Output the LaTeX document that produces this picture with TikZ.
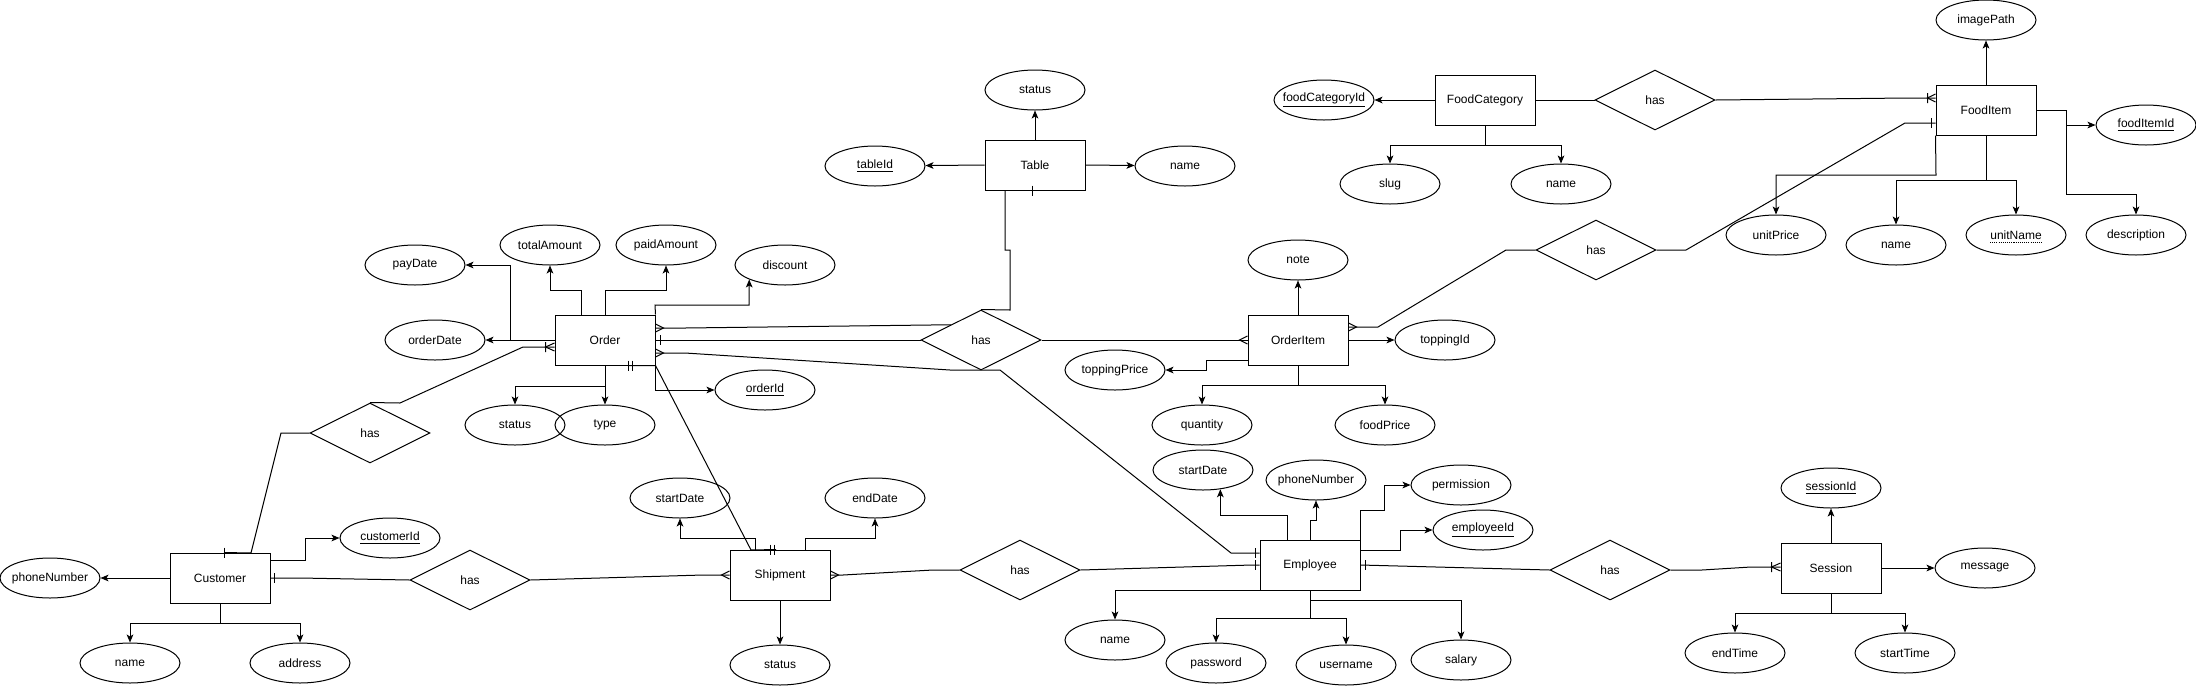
\documentclass[tikz,border=0pt]{standalone}
\usepackage{fontspec}
\setmainfont{Liberation Sans}
\usetikzlibrary{shapes.geometric,arrows.meta}
\tikzset{
  ent/.style={draw, rectangle, minimum width=75pt, minimum height=37.5pt},
  attr/.style={draw, ellipse, minimum width=75pt, minimum height=30pt, inner sep=0pt,
    execute at begin node={\hbox to 0pt\bgroup\hss}, execute at end node={\hss\egroup}},
  rel/.style={draw, diamond, minimum width=90pt, minimum height=45pt, inner sep=0pt}
}
\begin{document}
\begin{tikzpicture}[x=0.75pt, y=-0.75pt, line width=0.75pt, font=\fontsize{9}{11}\selectfont,
  >={Stealth[length=6pt,width=5pt,inset=1.5pt]}]
\useasboundingbox (0,0) rectangle (2196,687);
% entities
\node[ent] (cust) at (220,578) {Customer};
\node[ent] (ord) at (605,340) {Order};
\node[ent] (ship) at (780,575) {Shipment};
\node[ent] (tbl) at (1035,165) {Table};
\node[ent] (oitem) at (1298,340) {OrderItem};
\node[ent] (emp) at (1310,565) {Employee};
\node[ent] (sess) at (1831,568) {Session};
\node[ent] (fcat) at (1485,100) {FoodCategory};
\node[ent] (fitem) at (1986,110) {FoodItem};
% relations
\node[rel] (has1) at (370,433) {has};
\node[rel] (has2) at (470,580) {has};
\node[rel] (has3) at (1020,570) {has};
\node[rel] (has4) at (1610,570) {has};
\node[rel] (has5) at (1596,250) {has};
\node[rel] (has6) at (1655,100) {has};
\node[rel] (hasoi) at (981,340) {has};
% attributes
\node[attr] (cphone) at (50,578) {phoneNumber};
\node[attr] (cname) at (130,663) {name};
\node[attr] (caddr) at (300,663) {address};
\node[attr] (cid) at (390,538) {\underline{customerId}};
\node[attr] (paydate) at (415,265) {payDate};
\node[attr] (odate) at (435,340) {orderDate};
\node[attr] (total) at (550,245) {totalAmount};
\node[attr] (paid) at (666,245) {paidAmount};
\node[attr] (disc) at (785,265) {discount};
\node[attr] (oid) at (765,390) {\underline{orderId}};
\node[attr] (ostatus) at (515,425) {status};
\node[attr] (otype) at (605,425) {type};
\node[attr] (sstart) at (680,498) {startDate};
\node[attr] (send) at (875,498) {endDate};
\node[attr] (sstatus) at (780,665) {status};
\node[attr] (tstatus) at (1035,90) {status};
\node[attr] (tid) at (875,166) {\underline{tableId}};
\node[attr] (tname) at (1185,166) {name};
\node[attr] (note) at (1298,260) {note};
\node[attr] (tprice) at (1115,370) {toppingPrice};
\node[attr] (topid) at (1445,340) {toppingId};
\node[attr] (qty) at (1202,425) {quantity};
\node[attr] (fprice) at (1385,425) {foodPrice};
\node[attr] (esd) at (1203,470) {startDate};
\node[attr] (ephone) at (1316,480) {phoneNumber};
\node[attr] (perm) at (1461,485) {permission};
\node[attr] (eid) at (1483,530) {\underline{employeeId}};
\node[attr] (ename) at (1115,640) {name};
\node[attr] (pwd) at (1216,663) {password};
\node[attr] (uname) at (1346,665) {username};
\node[attr] (salary) at (1461,660) {salary};
\node[attr] (sid) at (1831,488) {\underline{sessionId}};
\node[attr] (msg) at (1985,568) {message};
\node[attr] (etime) at (1735,653) {endTime};
\node[attr] (stime) at (1905,653) {startTime};
\node[attr] (fcid) at (1324,100) {\underline{foodCategoryId}};
\node[attr] (slug) at (1390,184) {slug};
\node[attr] (fcname) at (1561,184) {name};
\node[attr] (img) at (1986,20) {imagePath};
\node[attr] (fid) at (2146,125) {\underline{foodItemId}};
\node[attr] (uprice) at (1776,235) {unitPrice};
\node[attr] (finame) at (1896,245) {name};
\node[attr] (unitname) at (2016,235) {unitName};
\node[attr] (desc) at (2136,235) {description};
\draw[line width=0.6pt, dash pattern=on 0.8pt off 0.8pt] (unitname.center) +(-26,7) -- +(26,7);
% attribute arrows
\draw[->] (cust.west) -- (cphone);
\draw[->] (cust.south) -- (220,623) -| (cname);
\draw[->] (220,623) -| (caddr);
\draw[->] (cust.east |- 0,560) -- (305,560) |- (cid);
\draw[->] (ord.west) -- (odate);
\draw[->] (510,340) |- (paydate);
\draw[->] (ord.north -| 581,0) -- (581,290) -| (total);
\draw[->] (ord.north) -- (605,290) -| (paid);
\draw[->] (ord.north east) -- (655,305) -| (disc.202);
\draw[->] (ord.south) -- (605,386) -| (ostatus);
\draw[->] (605,386) -- (otype);
\draw[->] (ord.south east) |- (oid);
\draw[->] (ship.north -| 755,0) -- (755,538) -| (sstart);
\draw[->] (ship.north -| 805,0) -- (805,538) -| (send);
\draw[->] (ship.south) -- (sstatus);
\draw[->] (tbl.north) -- (tstatus);
\draw[->] (tbl.west) -- (tid);
\draw[->] (tbl.east) -- (tname);
\draw[->] (oitem.north) -- (note);
\draw[->] (oitem.west |- 0,360) -- (1206,360) |- (tprice);
\draw[->] (oitem.east) -- (topid);
\draw[->] (oitem.south) -- (1298,385) -| (qty);
\draw[->] (1298,385) -| (fprice);
\draw[->] (emp.north -| 1287,0) -- (1287,515) -| (esd.312);
\draw[->] (emp.north) -- (1310,520) -| (ephone);
\draw[->] (emp.north east) |- (1384,510) |- (perm);
\draw[->] (emp.east |- 0,550) -- (1400,550) |- (eid);
\draw[->] (emp.south west) -| (ename);
\draw[->] (emp.south) -- (1310,618) -| (pwd);
\draw[->] (1310,618) -| (uname);
\draw[->] (1310,600) -| (salary);
\draw[->] (sess.north) -- (sid);
\draw[->] (sess.east) -- (msg);
\draw[->] (sess.south) -- (1831,613) -| (etime);
\draw[->] (1831,613) -| (stime);
\draw[->] (fcat.west) -- (fcid);
\draw[->] (fcat.south) -- (1485,145) -| (slug);
\draw[->] (1485,145) -| (fcname);
\draw[->] (fitem.north) -- (img);
\draw[->] (fitem.east) -- (2066,110) |- (fid);
\draw[->] (2066,125) |- (2136,194) -- (desc);
\draw[->] (fitem.south west) -- (1936,175) -| (uprice);
\draw[->] (fitem.south) -- (1986,180) -| (finame);
\draw[->] (1986,180) -| (unitname);
% relationship lines
\draw (cust.north -| 224,0) -- (251,553) -- (281,433) -- (has1.west);
\draw (has1.north) -- (400,403) -- (523,347) -- (ord.west |- 0,347);
\draw (cust.east) -- (300,578) -- (has2.west);
\draw (has2.east) -- (703,575) -- (ship.west);
\draw (ship.east) -- (843,575) -- (933,570) -- (has3.west);
\draw (has3.east) -- (1252,565) -- (emp.west);
\draw (ord.south -| 628,0) -- (ord.south east) -- (751,550) -- (ship.north -| 776,0);
\draw (ord.east |- 0,328) -- (685,328) -- (hasoi.north west);
\draw (ord.east) -- (hasoi.west);
\draw (ord.east |- 0,353) -- (685,353) -- (950,370) -- (1000,370) -- (1231,553) -- (emp.west |- 0,553);
\draw (tbl.south -| 1005,0) -- (1005,250) -- (1010,250) -- (1010,310) -- (hasoi.north);
\draw (hasoi.east) -- (oitem.west);
\draw (oitem.east |- 0,327) -- (1378,327) -- (1506,250) -- (has5.west);
\draw (has5.east) -- (1686,250) -- (1905,123) -- (fitem.west |- 0,123);
\draw (fcat.east) -- (has6.west);
\draw (has6.east) -- (1908,98) -- (fitem.west |- 0,98);
\draw (emp.east) -- (has4.west);
\draw (has4.east) -- (1702,570) -- (1751,567) -- (sess.west |- 0,567);
% cardinality marks
\draw (cust.north -| 224,0) +(0,-5) -- +(0,5);
\draw (cust.east) +(4,-5) -- +(4,5);
\draw (ord.west |- 0,347) +(0,-4) -- +(-9,0) -- +(0,4) +(-9,-5) -- +(-9,5);
\draw (ord.east |- 0,328) +(0,-4) -- +(8,0) -- +(0,4);
\draw (ord.east) +(5,-5) -- +(5,5);
\draw (ord.east |- 0,353) +(0,-4) -- +(8,0) -- +(0,4);
\draw (ord.south -| 628,0) +(0,-5) -- +(0,5) +(4,-5) -- +(4,5);
\draw (ship.north -| 770,0) +(0,-5) -- +(0,5) +(4,-5) -- +(4,5);
\draw (ship.west) +(0,-4) -- +(-8,0) -- +(0,4);
\draw (ship.east) +(0,-4) -- +(8,0) -- +(0,4);
\draw (emp.west |- 0,553) +(-4,-5) -- +(-4,5);
\draw (emp.west) +(-4,-5) -- +(-4,5);
\draw (emp.east) +(5,-5) -- +(5,5);
\draw (sess.west |- 0,567) +(0,-4) -- +(-9,0) -- +(0,4) +(-9,-5) -- +(-9,5);
\draw (tbl.south -| 1032,0) +(0,-5) -- +(0,5);
\draw (oitem.west) +(0,-4) -- +(-8,0) -- +(0,4);
\draw (oitem.east |- 0,327) +(0,-4) -- +(8,0) -- +(0,4);
\draw (fitem.west |- 0,98) +(0,-4) -- +(-8,0) -- +(0,4) +(-8,-5) -- +(-8,5);
\draw (fitem.west |- 0,123) +(-4,-5) -- +(-4,5);
\end{tikzpicture}
\end{document}
